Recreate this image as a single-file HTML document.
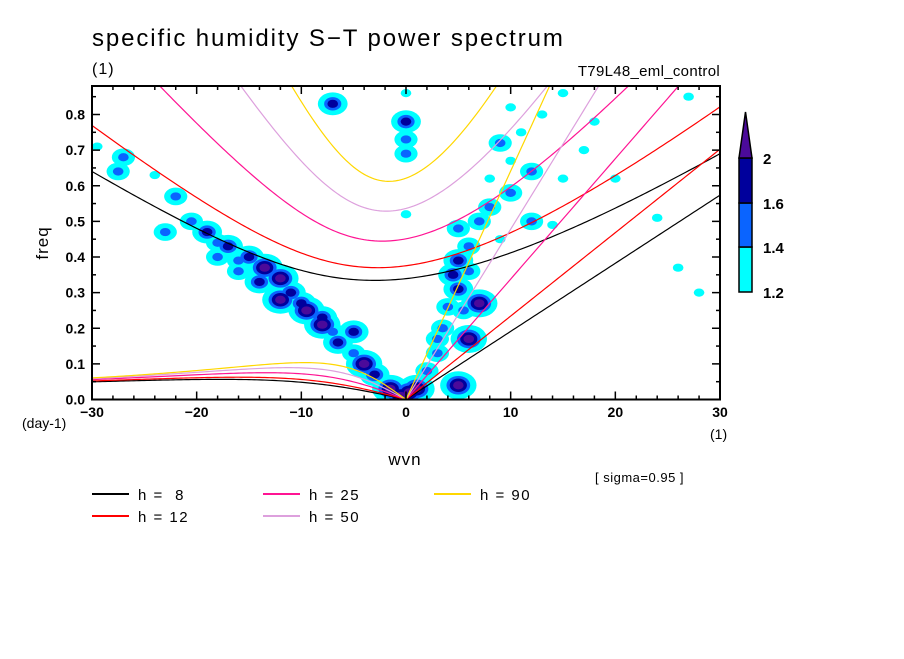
<!DOCTYPE html>
<html><head><meta charset="utf-8"><style>
body{margin:0;background:#fff;width:904px;height:654px;overflow:hidden}
svg text{font-family:"Liberation Sans",sans-serif;fill:#000}
</style></head><body>
<svg id="chart" width="904" height="654" xmlns="http://www.w3.org/2000/svg">
<text x="92" y="46" font-size="24" letter-spacing="1.9">specific humidity S−T power spectrum</text>
<text x="92" y="74" font-size="16" letter-spacing="1">(1)</text>
<text x="720" y="76" font-size="15" text-anchor="end" letter-spacing="0.3">T79L48_eml_control</text>
<defs><clipPath id="pc"><rect x="92" y="86" width="628" height="313.5"/></clipPath></defs>
<g id="blobs" clip-path="url(#pc)"></g>
<g id="curves" clip-path="url(#pc)"></g>
<rect x="92" y="86" width="628" height="313.5" fill="none" stroke="#000" stroke-width="2"/>
<g id="axes"></g>
<text transform="translate(48,243) rotate(-90)" font-size="17" text-anchor="middle" letter-spacing="1">freq</text>
<text x="22" y="428" font-size="14">(day-1)</text>
<text x="710" y="439" font-size="14">(1)</text>
<text x="405" y="465" font-size="17" text-anchor="middle" letter-spacing="1">wvn</text>
<text x="595" y="482" font-size="13" letter-spacing="0.5">[ sigma=0.95 ]</text>
<g id="legend"></g>
<g id="cbar"></g>
</svg>
<script>
const NS="http://www.w3.org/2000/svg";
const levels=[1.2,1.4,1.6,2];
const levelColors=["#00ffff","#0a64ff","#00009c","#4b0a9a"];
const depths=[8,12,25,50,90];
const depthColors=["#000000","#ff0000","#ff1493","#dda0dd","#ffd700"];
const xTicks=[-30,-20,-10,0,10,20,30];
const yTicks=[0,0.1,0.2,0.3,0.4,0.5,0.6,0.7,0.8];
// blobs: wavenumber, frequency, peak level index
const blobK=[-29.5,-27,-27.5,-24,-22,-20.5,-19,-17,-16,-15,-14,-13.5,-12,-12,-11,-9.5,-8,-6.5,-5,-4,-3,-1.5,-0.5,
 0,0,-7,0,0.3,1,5,6,7,5.5,5,4.5,5,6,5,7,8,10,10,12,12,3.5,3,2,9,13,10,15,17,20,15,26,28,-5,-23,-18,
 -18,-16,-10,-8,-7,0,0,6,8,4,3,9,11,14,18,24,27];
const blobF=[0.71,0.68,0.64,0.63,0.57,0.5,0.47,0.43,0.36,0.40,0.33,0.37,0.34,0.28,0.30,0.25,0.21,0.16,0.13,0.10,0.07,0.03,0.01,
 0.78,0.69,0.83,0.52,0.02,0.03,0.04,0.17,0.27,0.25,0.31,0.35,0.39,0.43,0.48,0.50,0.54,0.58,0.67,0.64,0.50,0.2,0.13,0.08,0.72,0.8,0.82,0.86,0.70,0.62,0.62,0.37,0.3,0.19,0.47,0.4,
 0.44,0.39,0.27,0.23,0.19,0.73,0.86,0.36,0.62,0.26,0.17,0.45,0.75,0.49,0.78,0.51,0.85];
const blobL=[1,2,2,1,2,2,3,3,2,3,3,4,4,4,3,4,4,3,2,4,3,4,4,
 3,2,3,1,4,4,4,4,4,2,3,3,3,2,2,2,2,2,1,2,2,2,2,2,2,1,1,1,1,1,1,1,1,3,2,2,
 2,2,3,3,2,2,1,2,1,2,2,1,1,1,1,1,1];
const X=k=>92+(k+30)/60*628, Y=f=>399.5-f/0.88*313.5;
function mk(tag,attrs,parent){const e=document.createElementNS(NS,tag);for(const a in attrs)e.setAttribute(a,attrs[a]);parent.appendChild(e);return e;}
const gB=document.getElementById('blobs');
for(let lv=0;lv<4;lv++){
 blobK.forEach((k,i)=>{
  if(blobL[i]<=lv)return;
  const s=(blobL[i]-lv);
  const extra=(lv===0&&blobL[i]>1)?3:0;
  const e=mk('ellipse',{cx:X(k),cy:Y(blobF[i]),rx:2+s*3.3+extra,ry:1.5+s*2.6+extra*0.7,fill:levelColors[lv]},gB);
  
  
 });
}
// dispersion curves
const beta=2.29e-11,a=6.371e6;
const gC=document.getElementById('curves');
depths.forEach((h,j)=>{
 const c=Math.sqrt(9.81*h);const col=depthColors[j];
 const toF=w=>w/(2*Math.PI)*86400;
 let ig=[],kv=[],er=[];
 for(let s=-30;s<=30.001;s+=0.25){
  const k=s/a;let w=Math.sqrt(c*c*k*k+3*beta*c);
  for(let it=0;it<30;it++)w=Math.sqrt(Math.max(1e-20,c*c*k*k+3*beta*c+beta*k*c*c/w));
  ig.push(X(s)+','+Y(toF(w)));
  if(s>=0)kv.push(X(s)+','+Y(toF(k*c)));
  if(s<=0)er.push(X(s)+','+Y(toF(-beta*k/(k*k+3*beta/c))));
 }
 [['ig',ig],['kelvin',kv],['rossby',er]].forEach(([n,p])=>{
  const l=mk('polyline',{points:p.join(' '),fill:'none',stroke:col,'stroke-width':1.2},gC);
  
  
 });
});
// axes
const gA=document.getElementById('axes');
for(let k=-30;k<=30;k+=2){const big=k%10===0;const L=big?8:4;
 mk('line',{x1:X(k),x2:X(k),y1:399.5,y2:399.5-L,stroke:'#000','stroke-width':1.5},gA);
 mk('line',{x1:X(k),x2:X(k),y1:86,y2:86+L,stroke:'#000','stroke-width':1.5},gA);}
for(let f=0;f<=0.88;f+=0.05){const big=Math.round(f*100)%10===0;const L=big?8:4;
 mk('line',{x1:92,x2:92+L,y1:Y(f),y2:Y(f),stroke:'#000','stroke-width':1.5},gA);
 mk('line',{x1:720,x2:720-L,y1:Y(f),y2:Y(f),stroke:'#000','stroke-width':1.5},gA);}
xTicks.forEach(k=>{const t=mk('text',{x:X(k),y:417,'font-size':14,'text-anchor':'middle','font-weight':'bold'},gA);t.textContent=k<0?'−'+(-k):k;
 
 });
yTicks.forEach(f=>{const t=mk('text',{x:85,y:Y(f)+5,'font-size':14,'text-anchor':'end','font-weight':'bold'},gA);t.textContent=f.toFixed(1);
 
 });
// legend
const gL=document.getElementById('legend');
const order=[0,2,4,1,3];
const colX=[92,263,434];
order.forEach((j,i)=>{const x=colX[i<3?i:i-3];const y=i<3?494:516;
 const g=mk('g',{},gL);
 
 
 mk('line',{x1:x,x2:x+37,y1:y,y2:y,stroke:depthColors[j],'stroke-width':2},g);
 const t=mk('text',{x:x+46,y:y+6,'font-size':15,'letter-spacing':'1.5'},g);t.textContent='h = '+(depths[j]<10?'\u00a0'+depths[j]:depths[j]);});
// colorbar
const gCb=document.getElementById('cbar');
const cbY=[292,247,203,158];
for(let i=0;i<3;i++){const r=mk('rect',{x:739,y:cbY[i+1],width:13,height:cbY[i]-cbY[i+1],fill:levelColors[i],stroke:'#000','stroke-width':1.5},gCb);
 
 }
mk('polygon',{points:'739,158 752,158 745.5,112',fill:levelColors[3],stroke:'#000','stroke-width':1.5},gCb);
levels.forEach((v,i)=>{const t=mk('text',{x:763,y:cbY[i]+6,'font-size':15,'font-weight':'bold'},gCb);t.textContent=v;
 
 });
</script>
</body></html>
